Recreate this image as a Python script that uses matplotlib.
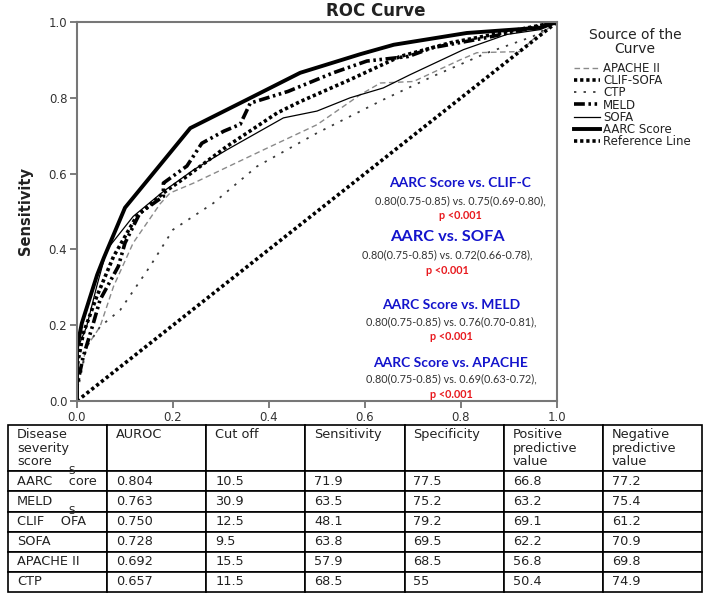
import matplotlib.pyplot as plt
import numpy as np

# ROC curves: (1 - specificity, sensitivity)
aarc_fpr = [0, 0, 0.003, 0.01, 0.042, 0.056, 0.1, 0.236, 0.354, 0.465, 0.59, 0.66, 0.812, 0.965, 1]
aarc_tpr = [0, 0.14, 0.16, 0.205, 0.333, 0.378, 0.51, 0.72, 0.795, 0.866, 0.915, 0.94, 0.971, 0.985, 1]

meld_fpr = [0, 0, 0.013, 0.034, 0.048, 0.086, 0.1, 0.131, 0.18, 0.18, 0.229, 0.26, 0.306, 0.34,
            0.361, 0.44, 0.534, 0.604, 0.69, 0.74, 0.85, 0.95, 1]
meld_tpr = [0, 0.04, 0.117, 0.205, 0.267, 0.355, 0.417, 0.496, 0.54, 0.575, 0.62, 0.68, 0.712, 0.73,
            0.786, 0.817, 0.866, 0.897, 0.909, 0.932, 0.958, 0.985, 1]

clif_fpr = [0, 0, 0.013, 0.041, 0.076, 0.124, 0.18, 0.229, 0.3125, 0.417, 0.465, 0.569, 0.673, 0.777, 0.92, 1]
clif_tpr = [0, 0.09, 0.178, 0.275, 0.381, 0.487, 0.549, 0.593, 0.672, 0.76, 0.79, 0.848, 0.909, 0.945, 0.98, 1]

sofa_fpr = [0, 0, 0.02, 0.041, 0.062, 0.117, 0.18, 0.243, 0.3125, 0.43, 0.5, 0.569, 0.638, 0.694,
            0.805, 0.895, 0.965, 1]
sofa_tpr = [0, 0.135, 0.196, 0.302, 0.399, 0.487, 0.553, 0.61, 0.663, 0.747, 0.765, 0.80, 0.826, 0.861,
            0.927, 0.967, 0.98, 1]

apache_fpr = [0, 0, 0.02, 0.048, 0.076, 0.117, 0.173, 0.194, 0.243, 0.389, 0.5, 0.59, 0.632, 0.701,
              0.798, 0.833, 0.923, 0.95, 1]
apache_tpr = [0, 0.04, 0.143, 0.196, 0.302, 0.417, 0.52, 0.549, 0.575, 0.663, 0.729, 0.808, 0.839, 0.843,
              0.9, 0.919, 0.922, 0.954, 1]

ctp_fpr = [0, 0, 0.02, 0.048, 0.09, 0.152, 0.2, 0.284, 0.375, 0.5, 0.569, 0.638, 0.742, 0.853, 0.95, 1]
ctp_tpr = [0, 0.02, 0.143, 0.196, 0.24, 0.355, 0.452, 0.522, 0.619, 0.707, 0.751, 0.795, 0.857, 0.918, 0.962, 1]

ref_line = [0, 1]

# comparison notes
comparisons = ['AARC Score vs. CLIF-C', 'AARC vs. SOFA', 'AARC Score vs. MELD', 'AARC Score vs. APACHE']
comparison_vals = ['0.80(0.75-0.85) vs. 0.75(0.69-0.80),', '0.80(0.75-0.85) vs. 0.72(0.66-0.78),',
                   '0.80(0.75-0.85) vs. 0.76(0.70-0.81),', '0.80(0.75-0.85) vs. 0.69(0.63-0.72),']
p_text = 'p <0.001'

# table
col_labels = ['Disease\nseverity\nscore', 'AUROC', 'Cut off', 'Sensitivity', 'Specificity',
              'Positive\npredictive\nvalue', 'Negative\npredictive\nvalue']
row_names = ['AARC    core', 'MELD', 'CLIF    OFA', 'SOFA', 'APACHE II', 'CTP']
auroc = ['0.804', '0.763', '0.750', '0.728', '0.692', '0.657']
cutoff = ['10.5', '30.9', '12.5', '9.5', '15.5', '11.5']
sens = ['71.9', '63.5', '48.1', '63.8', '57.9', '68.5']
spec = ['77.5', '75.2', '79.2', '69.5', '68.5', '55']
ppv = ['66.8', '63.2', '69.1', '62.2', '56.8', '50.4']
npv = ['77.2', '75.4', '61.2', '70.9', '69.8', '74.9']

W, H = 709, 596


def px(x, y):
    return x / W, 1 - y / H


fig = plt.figure(figsize=(W / 100, H / 100), dpi=100)
ax = fig.add_axes([77 / W, 1 - 401 / H, 480 / W, 379 / H])

l_apache, = ax.plot(apache_fpr, apache_tpr, color='#8a8a8a', lw=1.0, dashes=(4, 2.5), label='APACHE II')
l_clif, = ax.plot(clif_fpr, clif_tpr, color='black', lw=2.6, dashes=(0.9, 0.8), label='CLIF-SOFA')
l_ctp, = ax.plot(ctp_fpr, ctp_tpr, color='#3a3a3a', lw=1.3, dashes=(1.3, 4), label='CTP')
l_meld, = ax.plot(meld_fpr, meld_tpr, color='black', lw=2.6, dashes=(3, 1, 0.7, 1, 0.7, 1), label='MELD')
l_sofa, = ax.plot(sofa_fpr, sofa_tpr, color='black', lw=0.9, label='SOFA')
l_aarc, = ax.plot(aarc_fpr, aarc_tpr, color='black', lw=2.8, label='AARC Score')
l_ref, = ax.plot(ref_line, ref_line, color='black', lw=2.6, dashes=(0.9, 0.8), label='Reference Line')
for ln in (l_clif, l_ref, l_meld):
    ln.set_dash_capstyle('butt')

ax.set_xlim(0, 1)
ax.set_ylim(0, 1)
ax.set_xticks(np.arange(0, 1.01, 0.2))
ax.set_yticks(np.arange(0, 1.01, 0.2))
ax.xaxis.set_major_formatter(plt.FormatStrFormatter('%.1f'))
ax.yaxis.set_major_formatter(plt.FormatStrFormatter('%.1f'))
ax.tick_params(direction='out', length=5, width=1.2, color='#666666', labelsize=8.5,
               labelcolor='#333333', pad=2)
for s in ax.spines.values():
    s.set_color('#777777')
    s.set_linewidth(1.5)

ax.set_ylabel('Sensitivity', fontsize=10.5, fontweight='bold', color='#222222', labelpad=11)
fig.text(*px(376, 11), 'ROC Curve', ha='center', va='center', fontsize=12, fontweight='bold',
         color='#222222')

# legend, title drawn separately so the gap below it can be set
fig.text(*px(635, 42), 'Source of the\nCurve', ha='center', va='center', fontsize=10,
         color='#222222', linespacing=1.0)
leg = ax.legend(handles=[l_apache, l_clif, l_ctp, l_meld, l_sofa, l_aarc, l_ref],
                loc='upper left', bbox_to_anchor=px(574, 62),
                bbox_transform=fig.transFigure, frameon=False, fontsize=8.5,
                handlelength=2.2, handletextpad=0.25, labelspacing=-0.07, borderaxespad=0,
                borderpad=0)
for t in leg.get_texts():
    t.set_color('#222222')

# comparison notes
ys = [(183, 201, 216), (237, 255, 270), (305, 322, 337), (363, 379, 394)]
xs = [460, 447, 451, 451]
sizes = [10, 11.8, 10, 10]
for name, vals, (y1, y2, y3), xc, fs in zip(comparisons, comparison_vals, ys, xs, sizes):
    fig.text(*px(xc, y1), name, ha='center', va='center', fontsize=fs, fontweight='bold',
             color='#1414cc', family='Lato')
    fig.text(*px(xc, y2), vals, ha='center', va='center', fontsize=7.8, color='#333333', family='Lato')
    fig.text(*px(xc, y3), p_text, ha='center', va='center', fontsize=7.8, fontweight='bold',
             color='#e8191e', family='Lato')

# table
tax = fig.add_axes([8 / W, 1 - 592 / H, 694 / W, 167 / H])
tax.axis('off')
cell_text = [list(r) for r in zip(row_names, auroc, cutoff, sens, spec, ppv, npv)]
head = [c if '\n' in c else c + '\n\n' for c in col_labels]
tbl = tax.table(cellText=cell_text, colLabels=head, cellLoc='left', colLoc='left', bbox=[0, 0, 1, 1])
tbl.auto_set_font_size(False)
for (r, c), cell in tbl.get_celld().items():
    cell.set_linewidth(1.2)
    cell.set_edgecolor('black')
    cell.set_height(46 if r == 0 else 20)
    cell.PAD = 0.09
    cell.get_text().set_fontsize(9.3)
    cell.get_text().set_color('#222222')
    cell.get_text().set_linespacing(1.05)

# the stray "S" glyphs in two row names
fig.text(*px(72, 471), 'S', ha='center', va='center', fontsize=7.5, color='#222222')
fig.text(*px(72, 511), 'S', ha='center', va='center', fontsize=7.5, color='#222222')

fig.savefig('out.png', dpi=100, facecolor='white')
